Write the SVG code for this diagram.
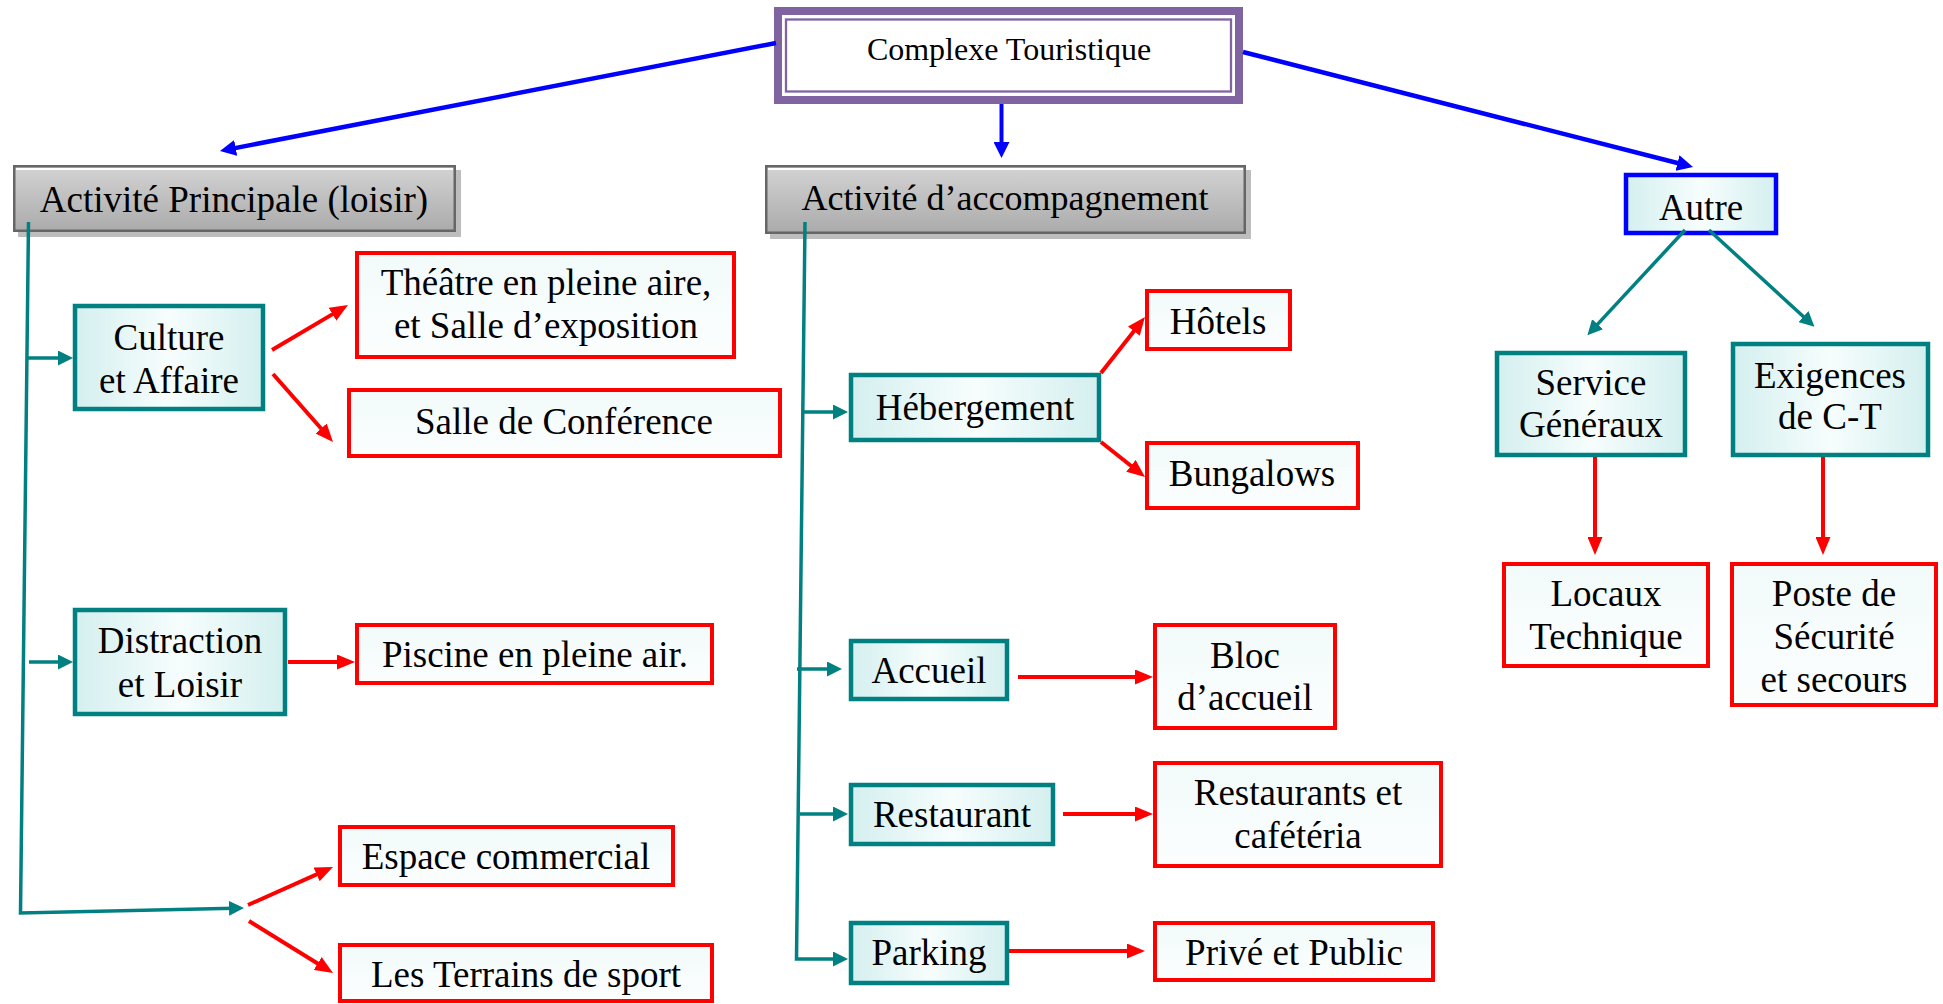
<svg xmlns="http://www.w3.org/2000/svg" width="1943" height="1004" viewBox="0 0 1943 1004">
<defs>
<style>
.t{font-family:"Liberation Serif","Times New Roman",serif;font-size:37px;fill:#000;text-anchor:middle}
.teal{fill:url(#gTeal);stroke:#008080;stroke-width:4.5}
.red{fill:url(#gRed);stroke:#ff0000;stroke-width:4}
.gray{fill:url(#gGray);stroke:#666;stroke-width:2.5}
.shadow{fill:#bdbdbd}
.hl{stroke:#fff;stroke-width:2}
.cb{fill:none;stroke:#0000ff;stroke-width:4.5}
.ct{fill:none;stroke:#008080;stroke-width:3.5}
.cr{fill:none;stroke:#ff0000;stroke-width:4}
</style>
<linearGradient id="gTeal" x1="0" y1="0" x2="1" y2="0">
<stop offset="0" stop-color="#d4efef"/><stop offset="0.5" stop-color="#f7fdfd"/><stop offset="1" stop-color="#d4efef"/>
</linearGradient>
<linearGradient id="gRed" x1="0" y1="0" x2="0" y2="1">
<stop offset="0" stop-color="#f2fafa"/><stop offset="1" stop-color="#fcfefe"/>
</linearGradient>
<linearGradient id="gGray" x1="0" y1="0" x2="0" y2="1">
<stop offset="0" stop-color="#d3d3d3"/><stop offset="1" stop-color="#ababab"/>
</linearGradient>
<marker id="mb" markerUnits="userSpaceOnUse" viewBox="0 0 16 16" refX="6" refY="8" markerWidth="16" markerHeight="16" orient="auto"><path d="M0,0 L16,8 L0,16 z" fill="#0000ff"/></marker>
<marker id="mt" markerUnits="userSpaceOnUse" viewBox="0 0 15 15" refX="5" refY="7.5" markerWidth="15" markerHeight="15" orient="auto"><path d="M0,0 L15,7.5 L0,15 z" fill="#008080"/></marker>
<marker id="mr" markerUnits="userSpaceOnUse" viewBox="0 0 18 15" refX="8" refY="7.5" markerWidth="18" markerHeight="15" orient="auto"><path d="M0,0 L18,7.5 L0,15 z" fill="#ff0000"/></marker>
</defs>
<rect width="1943" height="1004" fill="#fff"/>

<g id="complexe">
<rect x="778" y="11" width="461" height="89" fill="#fff" stroke="#8064a2" stroke-width="8"/>
<rect x="786" y="19.5" width="445" height="72" fill="#fff" stroke="#8064a2" stroke-width="2.3"/>
<text class="t" x="1009" y="60" style="font-size:32px">Complexe Touristique</text>
</g>

<g id="activite-principale">
<rect class="shadow" x="18" y="170" width="443" height="67"/>
<rect class="gray" x="14.25" y="166.25" width="440.5" height="64.5"/>
<line class="hl" x1="16" y1="169" x2="453" y2="169"/>
<text class="t" x="234" y="212">Activité Principale (loisir)</text>
</g>

<g id="activite-accompagnement">
<rect class="shadow" x="770" y="170" width="481" height="69"/>
<rect class="gray" x="766.25" y="166.25" width="478.5" height="66.5"/>
<line class="hl" x1="768" y1="169" x2="1243" y2="169"/>
<text class="t" x="1005" y="210" style="font-size:36px">Activité d’accompagnement</text>
</g>

<g id="autre">
<rect x="1626" y="175" width="150" height="58" fill="url(#gTeal)" stroke="#0000ff" stroke-width="4.5"/>
<text class="t" x="1701" y="220">Autre</text>
</g>

<g id="culture">
<rect class="teal" x="75" y="306" width="188" height="103"/>
<text class="t" x="169" y="350">Culture</text>
<text class="t" x="169" y="393">et Affaire</text>
</g>

<g id="theatre">
<rect class="red" x="357" y="253" width="377" height="104"/>
<text class="t" x="546" y="295">Théâtre en pleine aire,</text>
<text class="t" x="546" y="338">et Salle d’exposition</text>
</g>

<g id="salle-conference">
<rect class="red" x="349" y="390" width="431" height="66"/>
<text class="t" x="564" y="434">Salle de Conférence</text>
</g>

<g id="distraction">
<rect class="teal" x="75" y="610" width="210" height="104"/>
<text class="t" x="180" y="653">Distraction</text>
<text class="t" x="180" y="697">et Loisir</text>
</g>

<g id="piscine">
<rect class="red" x="357" y="625" width="355" height="58"/>
<text class="t" x="535" y="667">Piscine en pleine air.</text>
</g>

<g id="espace-commercial">
<rect class="red" x="340" y="827" width="333" height="58"/>
<text class="t" x="506" y="869">Espace commercial</text>
</g>

<g id="terrains">
<rect class="red" x="340" y="945" width="372" height="56"/>
<text class="t" x="526" y="987">Les Terrains de sport</text>
</g>

<g id="hebergement">
<rect class="teal" x="851" y="375" width="248" height="65"/>
<text class="t" x="975" y="420">Hébergement</text>
</g>

<g id="hotels">
<rect class="red" x="1147" y="291" width="143" height="58"/>
<text class="t" x="1218" y="334">Hôtels</text>
</g>

<g id="bungalows">
<rect class="red" x="1147" y="443" width="211" height="65"/>
<text class="t" x="1252" y="486">Bungalows</text>
</g>

<g id="accueil">
<rect class="teal" x="851" y="641" width="156" height="58"/>
<text class="t" x="929" y="683">Accueil</text>
</g>

<g id="bloc-accueil">
<rect class="red" x="1155" y="625" width="180" height="103"/>
<text class="t" x="1245" y="668">Bloc</text>
<text class="t" x="1245" y="710">d’accueil</text>
</g>

<g id="restaurant">
<rect class="teal" x="851" y="785" width="202" height="59"/>
<text class="t" x="952" y="827">Restaurant</text>
</g>

<g id="restaurants-cafeteria">
<rect class="red" x="1155" y="763" width="286" height="103"/>
<text class="t" x="1298" y="805">Restaurants et</text>
<text class="t" x="1298" y="848">cafétéria</text>
</g>

<g id="parking">
<rect class="teal" x="851" y="923" width="156" height="60"/>
<text class="t" x="929" y="965">Parking</text>
</g>

<g id="prive-public">
<rect class="red" x="1155" y="923" width="278" height="57"/>
<text class="t" x="1294" y="965">Privé et Public</text>
</g>

<g id="service-generaux">
<rect class="teal" x="1497" y="353" width="188" height="102"/>
<text class="t" x="1591" y="395">Service</text>
<text class="t" x="1591" y="437">Généraux</text>
</g>

<g id="exigences">
<rect class="teal" x="1733" y="344" width="195" height="111"/>
<text class="t" x="1830" y="388">Exigences</text>
<text class="t" x="1830" y="429">de C-T</text>
</g>

<g id="locaux">
<rect class="red" x="1504" y="564" width="204" height="102"/>
<text class="t" x="1606" y="606">Locaux</text>
<text class="t" x="1606" y="649">Technique</text>
</g>

<g id="poste-securite">
<rect class="red" x="1732" y="564" width="204" height="141"/>
<text class="t" x="1834" y="606">Poste de</text>
<text class="t" x="1834" y="649">Sécurité</text>
<text class="t" x="1834" y="692">et secours</text>
</g>

<g id="connectors">
<path class="cb" d="M776,43 L229.8,149.1" marker-end="url(#mb)"/>
<path class="cb" d="M1001.5,104 L1001.5,148" style="stroke-width:4" marker-end="url(#mb)"/>
<path class="cb" d="M1243,52 L1683.3,164.5" marker-end="url(#mb)"/>

<path class="ct" d="M28.5,222 L20.5,913 L234,908.2" marker-end="url(#mt)"/>
<path class="ct" d="M26,358 L63,358" marker-end="url(#mt)"/>
<path class="ct" d="M29,662 L63,662" marker-end="url(#mt)"/>
<path class="ct" d="M805,222 L796.5,959 L838,959" marker-end="url(#mt)"/>
<path class="ct" d="M803,412 L838,412" marker-end="url(#mt)"/>
<path class="ct" d="M797,669 L832,669" marker-end="url(#mt)"/>
<path class="ct" d="M800,814 L838,814" marker-end="url(#mt)"/>
<path class="ct" d="M1685,230 L1594.2,327.9" marker-end="url(#mt)"/>
<path class="ct" d="M1709,230 L1807.1,320" marker-end="url(#mt)"/>

<path class="cr" d="M272,350 L339.4,310.1" marker-end="url(#mr)"/>
<path class="cr" d="M273,374 L326.4,434.5" marker-end="url(#mr)"/>
<path class="cr" d="M288,662 L345,662" marker-end="url(#mr)"/>
<path class="cr" d="M248,905 L323.9,871.1" marker-end="url(#mr)"/>
<path class="cr" d="M249,921 L324.5,967.7" marker-end="url(#mr)"/>
<path class="cr" d="M1101,373 L1138.8,324.9" marker-end="url(#mr)"/>
<path class="cr" d="M1101,442 L1137.2,470.8" marker-end="url(#mr)"/>
<path class="cr" d="M1018,677 L1143,677" marker-end="url(#mr)"/>
<path class="cr" d="M1063,814 L1143,814" marker-end="url(#mr)"/>
<path class="cr" d="M1009,951 L1135,951" marker-end="url(#mr)"/>
<path class="cr" d="M1595,457 L1595,545" marker-end="url(#mr)"/>
<path class="cr" d="M1823,457 L1823,545" marker-end="url(#mr)"/>
</g>
</svg>
